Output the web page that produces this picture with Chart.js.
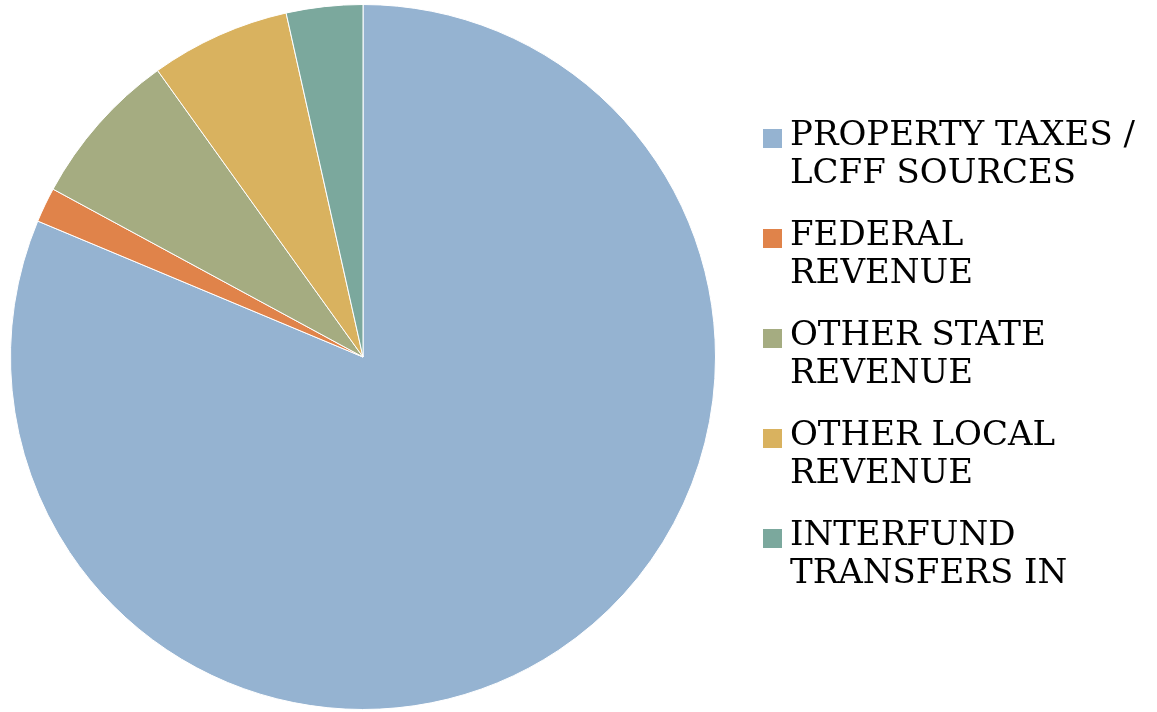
<!DOCTYPE html>
<html>
<head>
<meta charset="utf-8">
<script src="https://cdn.jsdelivr.net/npm/chart.js@4.4.0/dist/chart.umd.min.js"></script>
<style>
  html, body { margin: 0; padding: 0; background: #ffffff; overflow: hidden; width: 1157px; height: 712px; }
  /* el lienzo se corre un poco a la izquierda para centrar la torta donde va */
  #graficoIngresos { position: absolute; left: -22px; top: 0; }
</style>
</head>
<body>
<canvas id="graficoIngresos" width="1179" height="712"></canvas>
<script>
// Datos del gráfico (en %)
const categorias = [
    ['PROPERTY TAXES /', 'LCFF SOURCES'],
    ['FEDERAL', 'REVENUE'],
    ['OTHER STATE', 'REVENUE'],
    ['OTHER LOCAL', 'REVENUE'],
    ['INTERFUND', 'TRANSFERS IN']
];
const valores = [81.3, 1.6, 7.2, 6.4, 3.5];
const colores = ['#95b3d1', '#e0834a', '#a5ac81', '#d9b25f', '#7ba89d'];

const CORRIMIENTO = 22;          // desplazamiento del lienzo
const ANCHO_LIENZO = 1157 + CORRIMIENTO;
const fuente = { family: "'DejaVu Serif', serif", size: 34, lineHeight: 37.5 / 34 };
const sepLeyenda = 25;
const textoX = 790;              // donde arranca el texto de la leyenda (página)
const centroX = 363;             // centro de la torta (página)

// Cuadrito de leyenda dibujado aparte (así el hueco con el texto queda corto)
function crearCuadrito(color) {
    const c = document.createElement('canvas');
    c.width = 19;
    c.height = 23;
    const g = c.getContext('2d');
    g.fillStyle = color;
    g.fillRect(0, 4, 19, 19);
    return c;
}
const cuadritos = colores.map(crearCuadrito);

// Medir el texto más largo para saber cuánto ocupa la leyenda
const medidor = document.createElement('canvas').getContext('2d');
medidor.font = fuente.size + 'px ' + fuente.family;
const anchoTexto = Math.max(...categorias.map(c => {
    const larga = c.reduce((a, b) => a.length > b.length ? a : b);
    return medidor.measureText(larga).width;
}));
// ancho que Chart.js le da a la leyenda (incluye la separación)
const anchoLeyenda = 1 + fuente.size / 2 + anchoTexto + 10 + sepLeyenda;
const leyendaIzq = textoX + CORRIMIENTO - sepLeyenda - 1 - fuente.size / 2; // coords del lienzo
const padDer = ANCHO_LIENZO - leyendaIzq - anchoLeyenda;
const padIzq = 2 * (centroX + CORRIMIENTO) - leyendaIzq;

const ctx = document.getElementById('graficoIngresos').getContext('2d');

new Chart(ctx, {
    type: 'pie',
    data: {
        labels: categorias,
        datasets: [{
            data: valores,
            backgroundColor: colores,
            borderColor: '#ffffff',
            borderWidth: 1
        }]
    },
    options: {
        responsive: false,
        animation: false,
        layout: { padding: { left: padIzq, right: padDer, top: 4, bottom: 2 } },
        plugins: {
            legend: {
                position: 'right',
                labels: {
                    color: '#000000',
                    font: fuente,
                    padding: sepLeyenda,
                    usePointStyle: true,
                    pointStyleWidth: 1,
                    generateLabels: (chart) => chart.data.labels.map((label, i) => ({
                        text: label,
                        fillStyle: colores[i],
                        strokeStyle: colores[i],
                        lineWidth: 0,
                        pointStyle: cuadritos[i],
                        hidden: false,
                        index: i
                    }))
                }
            },
            tooltip: { enabled: false }
        }
    }
});
</script>
</body>
</html>
